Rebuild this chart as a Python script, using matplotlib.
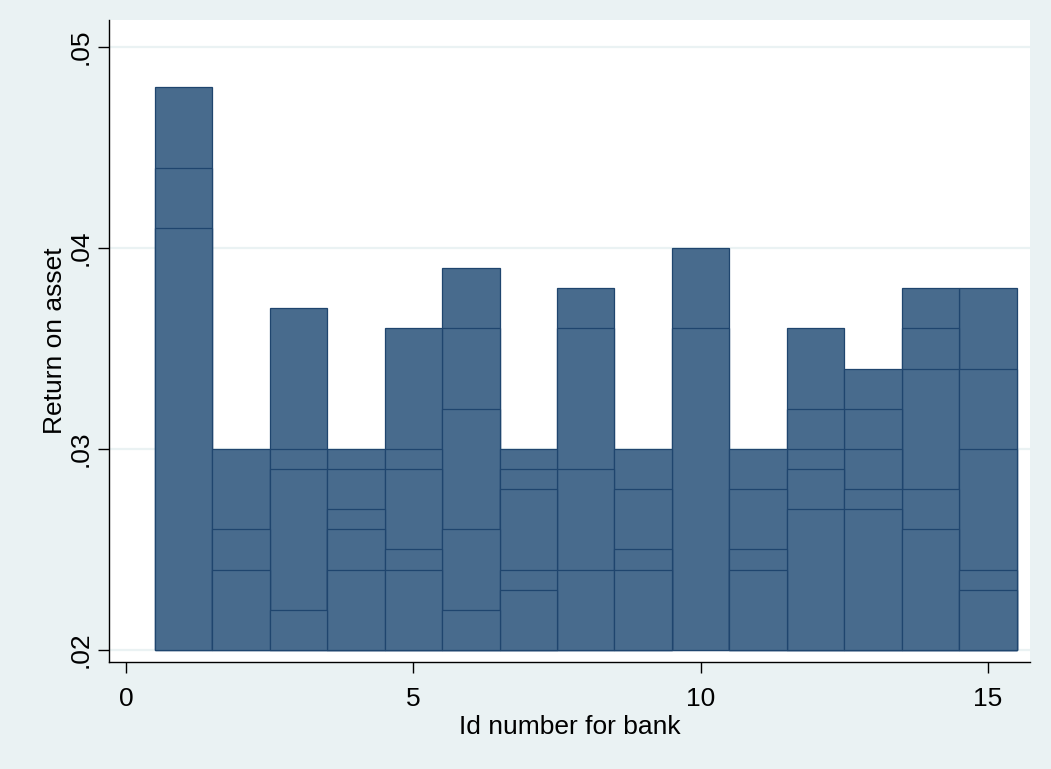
import numpy as np
import matplotlib.pyplot as plt

# panel data: bank id and return on asset (one row per bank-year)
bank = [1, 1, 1,
        2, 2, 2,
        3, 3, 3, 3,
        4, 4, 4, 4, 4,
        5, 5, 5, 5, 5,
        6, 6, 6, 6, 6,
        7, 7, 7, 7, 7,
        8, 8, 8, 8,
        9, 9, 9, 9,
        10, 10,
        11, 11, 11, 11,
        12, 12, 12, 12, 12,
        13, 13, 13, 13, 13,
        14, 14, 14, 14, 14,
        15, 15, 15, 15, 15]
roa = [0.048, 0.044, 0.041,
       0.030, 0.026, 0.024,
       0.037, 0.030, 0.029, 0.022,
       0.030, 0.029, 0.027, 0.026, 0.024,
       0.036, 0.030, 0.029, 0.025, 0.024,
       0.039, 0.036, 0.032, 0.026, 0.022,
       0.030, 0.029, 0.028, 0.024, 0.023,
       0.038, 0.036, 0.029, 0.024,
       0.030, 0.028, 0.025, 0.024,
       0.040, 0.036,
       0.030, 0.028, 0.025, 0.024,
       0.036, 0.032, 0.030, 0.029, 0.027,
       0.034, 0.032, 0.030, 0.028, 0.027,
       0.038, 0.036, 0.034, 0.028, 0.026,
       0.038, 0.034, 0.030, 0.024, 0.023]
yticks = [0.02, 0.03, 0.04, 0.05]
yticklabels = ['.02', '.03', '.04', '.05']
xticks = [0, 5, 10, 15]

base = 0.02
bg = '#EAF2F3'
fs = 19

plt.rcParams['font.family'] = ['Liberation Sans', 'DejaVu Sans']

fig = plt.figure(figsize=(10.51, 7.69), dpi=100, facecolor=bg)
ax = fig.add_axes([109/1051, 1 - 662/769, (1030 - 109)/1051, (662 - 20)/769])
ax.set_facecolor('white')

# tallest first so the tops of the shorter bars stay visible
order = np.argsort(roa)[::-1]
b = np.array(bank)[order]
r = np.array(roa)[order]
ax.bar(b, r - base, bottom=base, width=1.0, color='#486B8D',
       edgecolor='#1F456E', linewidth=0.9, zorder=3)

for t in yticks:
    ax.axhline(t, color=bg, linewidth=1.6, zorder=1)

ax.set_xlim(-0.296, 15.73)
ax.set_ylim(0.0194, 0.05134)
ax.set_xticks(xticks)
ax.set_yticks(yticks)
ax.set_yticklabels(yticklabels, rotation=90, va='center')
ax.tick_params(axis='both', direction='out', length=8, width=1,
               labelsize=fs, color='black')
ax.tick_params(axis='x', pad=10)
ax.tick_params(axis='y', pad=4)

for s in ['top', 'right']:
    ax.spines[s].set_visible(False)
for s in ['left', 'bottom']:
    ax.spines[s].set_linewidth(1)
    ax.spines[s].set_color('black')

ax.set_xlabel('Id number for bank', fontsize=fs, labelpad=3)
ax.set_ylabel('Return on asset', fontsize=fs, labelpad=1)

fig.savefig('out.png', dpi=100, facecolor=bg)
